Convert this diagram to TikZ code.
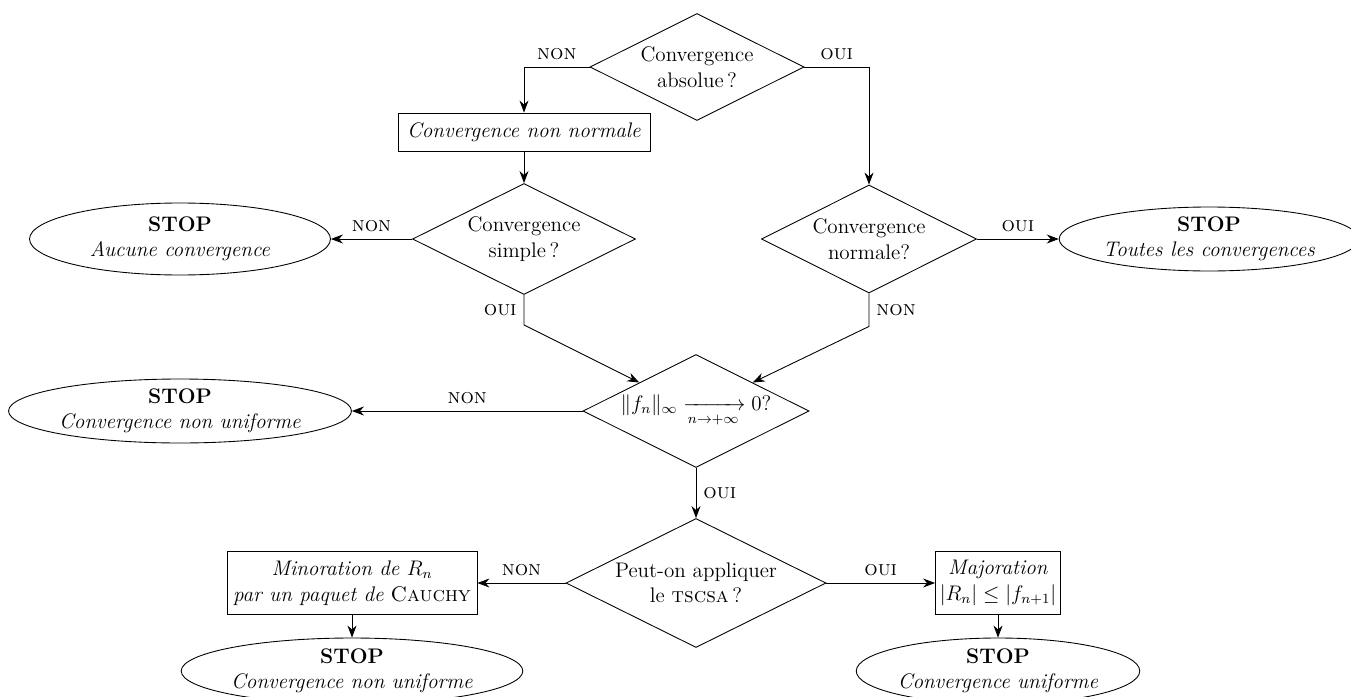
\documentclass[tikz,border=0pt,12pt]{standalone}
\usepackage{amsmath}
\usetikzlibrary{shapes.geometric,arrows.meta}

\tikzset{
  question/.style={diamond,draw,aspect=2,align=center,inner sep=0pt},
  arret/.style={ellipse,draw,align=center,inner sep=0pt},
  boite/.style={rectangle,draw,align=center,inner sep=2pt},
  rep/.style={font=\normalsize}
}

\begin{document}
\begin{tikzpicture}[x=0.02cm,y=-0.02cm,line width=0.5pt,>={Stealth[length=2.4mm]}]
  \useasboundingbox (0,0) rectangle (1351,696);
  % questions
  \node[question,minimum width=4.28cm,minimum height=2.14cm] (abs) at (697,67) {Convergence\\absolue\,?};
  \node[question,minimum width=4.46cm,minimum height=2.22cm] (simple) at (524,239) {Convergence\\simple\,?};
  \node[question,minimum width=4.3cm,minimum height=2.16cm] (norm) at (869,239) {Convergence\\normale?};
  \node[question,minimum width=4.52cm,minimum height=2.26cm] (unif) at (696,411) {$\|f_n\|_\infty \xrightarrow[n\to+\infty]{} 0$?};
  \node[question,minimum width=5.2cm,minimum height=2.58cm] (tscsa) at (696,583) {Peut-on appliquer\\le \textsc{tscsa}\,?};
  % boites
  \node[boite,minimum width=5.04cm,minimum height=0.76cm] (nonnorm) at (524,132) {\textit{Convergence non normale}};
  \node[boite,minimum width=5cm,minimum height=1.26cm] (cauchy) at (352,583) {\textit{Minoration de $R_n$}\\\textit{par un paquet de} \textsc{Cauchy}};
  \node[boite,minimum width=2.5cm,minimum height=1.26cm] (major) at (998,583) {\textit{Majoration}\\$|R_n|\leq|f_{n+1}|$};
  % arrets
  \node[arret,minimum width=6.02cm,minimum height=1.44cm] (aucune) at (180,239) {\textbf{STOP}\\\textit{Aucune convergence}};
  \node[arret,minimum width=5.64cm,minimum height=1.28cm] (toutes) at (1209,239) {\textbf{STOP}\\\textit{Toutes les convergences}};
  \node[arret,minimum width=6.86cm,minimum height=1.28cm] (nonunif) at (180,411) {\textbf{STOP}\\\textit{Convergence non uniforme}};
  \node[arret,minimum width=6.8cm,minimum height=1.32cm] (nonunifb) at (352,671) {\textbf{STOP}\\\textit{Convergence non uniforme}};
  \node[arret,minimum width=5.66cm,minimum height=1.32cm] (uniforme) at (998,671) {\textbf{STOP}\\\textit{Convergence uniforme}};
  % liaisons
  \draw[->] (abs.west) -| (nonnorm.north) node[rep,pos=0.25,above]{\textsc{non}};
  \draw[->] (abs.east) -| (norm.north) node[rep,pos=0.25,above]{\textsc{oui}};
  \draw[->] (nonnorm.south) -- (simple.north);
  \draw[->] (simple.west) -- (aucune.east) node[rep,midway,above]{\textsc{non}};
  \draw[->] (norm.east) -- (toutes.west) node[rep,midway,above]{\textsc{oui}};
  \draw[->] (simple.south) -- ++(0,30) node[rep,midway,left]{\textsc{oui}} -- (unif.north west);
  \draw[->] (norm.south) -- ++(0,33) node[rep,midway,right]{\textsc{non}} -- (unif.north east);
  \draw[->] (unif.west) -- (nonunif.east) node[rep,midway,above]{\textsc{non}};
  \draw[->] (unif.south) -- (tscsa.north) node[rep,midway,right]{\textsc{oui}};
  \draw[->] (tscsa.west) -- (cauchy.east) node[rep,midway,above]{\textsc{non}};
  \draw[->] (tscsa.east) -- (major.west) node[rep,midway,above]{\textsc{oui}};
  \draw[->] (cauchy.south) -- (nonunifb.north);
  \draw[->] (major.south) -- (uniforme.north);
\end{tikzpicture}
\end{document}
